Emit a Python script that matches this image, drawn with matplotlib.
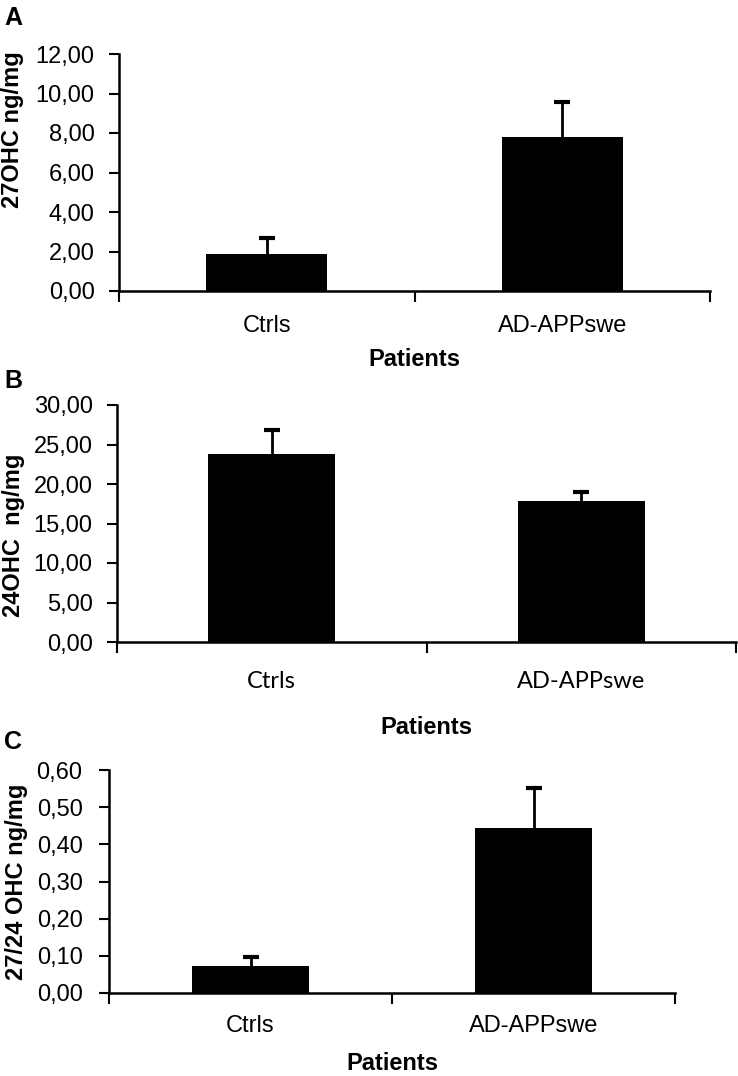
import matplotlib
matplotlib.use("Agg")
import matplotlib.pyplot as plt

categories = ["Ctrls", "AD-APPswe"]
a_vals = [1.87, 7.80]
a_err = [0.81, 1.77]
b_vals = [23.8, 17.85]
b_err = [3.0, 1.15]
c_vals = [0.073, 0.444]
c_err = [0.024, 0.108]

a_ticks = [0, 2, 4, 6, 8, 10, 12]
b_ticks = [0, 5, 10, 15, 20, 25, 30]
c_ticks = [0, 0.1, 0.2, 0.3, 0.4, 0.5, 0.6]

W, H = 738, 1076
fig = plt.figure(figsize=(W/100, H/100), dpi=100)

def fx(px): return px / W
def fy(py): return 1 - py / H

FONT = "Liberation Sans"

panels = [
    dict(letter="A", vals=a_vals, err=a_err, ticks=a_ticks, ylabel="27OHC ng/mg",
         box=(119, 710, 54, 291), catfont=FONT, letter_y=18,
         ylab_x=13, ylab_y=130, cat_pad=17, xlab_y=360, tick_pad=10.5),
    dict(letter="B", vals=b_vals, err=b_err, ticks=b_ticks, ylabel="24OHC  ng/mg",
         box=(117, 736, 405, 642), catfont="Lato", letter_y=381,
         ylab_x=14, ylab_y=535, cat_pad=21, xlab_y=727, tick_pad=10.5),
    dict(letter="C", vals=c_vals, err=c_err, ticks=c_ticks, ylabel="27/24 OHC ng/mg",
         box=(109, 675, 770, 993), catfont=FONT, letter_y=742,
         ylab_x=17, ylab_y=882, cat_pad=15.5, xlab_y=1064, tick_pad=12),
]

for p in panels:
    l, r, t, b = p["box"]
    ax = fig.add_axes([fx(l), fy(b), fx(r) - fx(l), fy(t) - fy(b)])
    x = [0.5, 1.5]
    ax.bar(x, p["vals"], width=0.41, color="black", zorder=2)
    eb = ax.errorbar(x, p["vals"], yerr=[[0, 0], p["err"]], fmt="none", ecolor="black",
                     elinewidth=2, capsize=6, capthick=3, zorder=1)
    eb[1][0].set_visible(False)
    ax.set_xlim(0, 2)
    ax.set_ylim(p["ticks"][0], p["ticks"][-1])
    ax.set_yticks(p["ticks"])
    ax.set_yticklabels([f"{v:.2f}".replace(".", ",") for v in p["ticks"]],
                       fontfamily=FONT, fontsize=17)
    ax.set_xticks([0, 1, 2])
    ax.set_xticklabels([])
    ax.set_xticks(x, minor=True)
    ax.set_xticklabels(categories, minor=True, fontfamily=p["catfont"], fontsize=17)
    ax.tick_params(axis="x", which="minor", length=0, pad=p["cat_pad"])
    ax.tick_params(axis="x", which="major", length=8, width=1.5, direction="out")
    ax.tick_params(axis="y", length=7, width=1.5, direction="out", pad=p["tick_pad"])
    for s in ["top", "right"]:
        ax.spines[s].set_visible(False)
    for s in ["left", "bottom"]:
        ax.spines[s].set_linewidth(1.8)
    ax.set_xlabel("Patients", fontfamily=FONT, fontweight="bold", fontsize=17)
    ax.xaxis.set_label_coords(0.5, (b - p["xlab_y"]) / (b - t))
    ax.xaxis.label.set_va("center")
    ax.set_ylabel(p["ylabel"], fontfamily=FONT, fontweight="bold", fontsize=17)
    ax.yaxis.set_label_coords((p["ylab_x"] - l) / (r - l), (b - p["ylab_y"]) / (b - t))
    ax.yaxis.label.set_va("center")
    fig.text(fx(4), fy(p["letter_y"]), p["letter"], fontfamily=FONT,
             fontweight="bold", fontsize=18, va="center", ha="left")

fig.savefig("out.png", dpi=100)
